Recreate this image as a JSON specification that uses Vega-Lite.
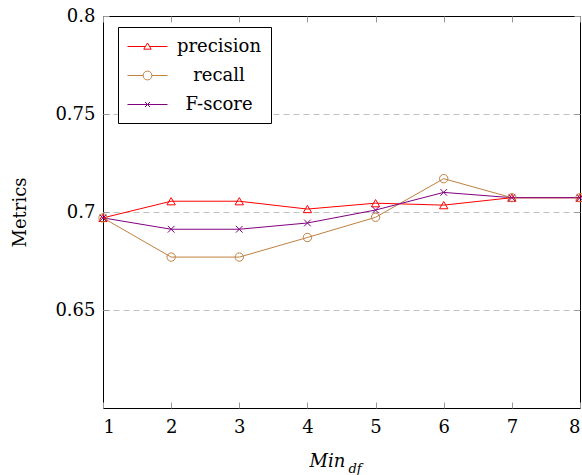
{
  "$schema": "https://vega.github.io/schema/vega-lite/v6.json",
  "width": 477,
  "height": 392,
  "autosize": "none",
  "padding": {"left": 103, "top": 16, "right": 2, "bottom": 67},
  "config": {
    "view": {"stroke": "#000000", "strokeWidth": 1},
    "font": "DejaVu Serif",
    "axis": {
      "labelFont": "DejaVu Serif",
      "titleFont": "DejaVu Serif",
      "labelFontSize": 18,
      "titleFontSize": 18,
      "titleFontWeight": "normal",
      "labelColor": "#000000",
      "titleColor": "#000000",
      "tickColor": "#999999",
      "tickSize": -6,
      "domain": false,
      "grid": false
    },
    "legend": {
      "orient": "none", "legendX": 15, "legendY": 11, "title": null,
      "strokeColor": "#000000", "fillColor": "#ffffff", "padding": 9, "cornerRadius": 0,
      "symbolSize": 400, "symbolStrokeWidth": 1, "symbolOpacity": 1,
      "labelFont": "DejaVu Serif", "labelFontSize": 18, "labelColor": "#000000",
      "labelOffset": 71, "labelAlign": "center", "rowPadding": 9
    }
  },
  "data": {
    "values": [
      {"x": 1, "series": "precision", "value": 0.697},
      {"x": 2, "series": "precision", "value": 0.7055},
      {"x": 3, "series": "precision", "value": 0.7055},
      {"x": 4, "series": "precision", "value": 0.7015},
      {"x": 5, "series": "precision", "value": 0.7045},
      {"x": 6, "series": "precision", "value": 0.7035},
      {"x": 7, "series": "precision", "value": 0.7073},
      {"x": 8, "series": "precision", "value": 0.7073},
      {"x": 1, "series": "recall", "value": 0.697},
      {"x": 2, "series": "recall", "value": 0.677},
      {"x": 3, "series": "recall", "value": 0.677},
      {"x": 4, "series": "recall", "value": 0.687},
      {"x": 5, "series": "recall", "value": 0.6973},
      {"x": 6, "series": "recall", "value": 0.717},
      {"x": 7, "series": "recall", "value": 0.7073},
      {"x": 8, "series": "recall", "value": 0.7073},
      {"x": 1, "series": "F-score", "value": 0.697},
      {"x": 2, "series": "F-score", "value": 0.6912},
      {"x": 3, "series": "F-score", "value": 0.6912},
      {"x": 4, "series": "F-score", "value": 0.6944},
      {"x": 5, "series": "F-score", "value": 0.701},
      {"x": 6, "series": "F-score", "value": 0.710},
      {"x": 7, "series": "F-score", "value": 0.7073},
      {"x": 8, "series": "F-score", "value": 0.7073}
    ]
  },
  "layer": [
    {
      "mark": {"type": "line", "strokeWidth": 1},
      "encoding": {
        "x": {
          "field": "x", "type": "quantitative",
          "scale": {"domain": [1, 8], "nice": false, "zero": false},
          "axis": {
            "orient": "bottom", "values": [1, 2, 3, 4, 5, 6, 7, 8], "format": "d",
            "labelPadding": 16, "title": "Min", "titleFontStyle": "italic",
            "titleX": 224, "titleY": 58, "titleBaseline": "alphabetic", "titleAlign": "center"
          }
        },
        "y": {
          "field": "value", "type": "quantitative",
          "scale": {"domain": [0.6, 0.8], "nice": false, "zero": false},
          "axis": {
            "orient": "left", "values": [0.65, 0.7, 0.75, 0.8], "format": "~g",
            "labelPadding": 14, "title": "Metrics", "titlePadding": 25,
            "grid": true, "gridDash": [6, 4], "gridColor": "#c0c0c0", "gridWidth": 1,
            "gridOpacity": {"condition": {"test": "datum.value > 0.79", "value": 0}, "value": 1}
          }
        },
        "color": {
          "field": "series", "type": "nominal",
          "scale": {"domain": ["precision", "recall", "F-score"], "range": ["#ff0000", "#bf8040", "#800080"]},
          "legend": null
        }
      }
    },
    {
      "mark": {"type": "point", "filled": false, "size": 70, "strokeWidth": 1, "opacity": 1},
      "encoding": {
        "x": {
          "field": "x", "type": "quantitative",
          "scale": {"domain": [1, 8], "nice": false, "zero": false},
          "axis": {
            "orient": "top", "values": [1, 2, 3, 4, 5, 6, 7, 8], "labels": false,
            "title": "df", "titleFontStyle": "italic", "titleFontSize": 13,
            "titleX": 245, "titleY": 456, "titleBaseline": "alphabetic", "titleAlign": "left", "titleAngle": 0
          }
        },
        "y": {
          "field": "value", "type": "quantitative",
          "scale": {"domain": [0.6, 0.8], "nice": false, "zero": false},
          "axis": {"orient": "right", "values": [0.65, 0.7, 0.75, 0.8], "labels": false, "title": null}
        },
        "color": {
          "field": "series", "type": "nominal",
          "scale": {"domain": ["precision", "recall", "F-score"], "range": ["#ff0000", "#bf8040", "#800080"]},
          "legend": null
        },
        "shape": {
          "field": "series", "type": "nominal",
          "scale": {"domain": ["precision", "recall", "F-score"], "range": ["triangle-up", "circle", "M-0.8,-0.8L0.8,0.8M-0.8,0.8L0.8,-0.8"]},
          "legend": null
        }
      }
    },
    {
      "transform": [{"filter": "datum.x > 100"}],
      "mark": {"type": "point", "filled": false, "strokeWidth": 1, "opacity": 1},
      "encoding": {
        "x": {"field": "x", "type": "quantitative", "scale": {"domain": [1, 8], "nice": false, "zero": false}, "axis": null},
        "y": {"field": "value", "type": "quantitative", "scale": {"domain": [0.6, 0.8], "nice": false, "zero": false}, "axis": null},
        "color": {
          "field": "series", "type": "nominal",
          "scale": {"domain": ["precision", "recall", "F-score"], "range": ["#ff0000", "#bf8040", "#800080"]}
        },
        "shape": {
          "field": "series", "type": "nominal",
          "scale": {"domain": ["precision", "recall", "F-score"], "range": [
            "M-1,0H0.79M1.21,0H3M1,-0.35L1.37,0.27L0.63,0.27Z",
            "M-1,0H0.56M1.44,0H3M1.44,0A0.44,0.44,0,1,1,0.56,0A0.44,0.44,0,1,1,1.44,0",
            "M-1,0H3M0.75,-0.25L1.25,0.25M0.75,0.25L1.25,-0.25"
          ]}
        }
      }
    }
  ],
  "resolve": {
    "scale": {"color": "independent", "shape": "independent"},
    "axis": {"x": "independent", "y": "independent"}
  }
}
